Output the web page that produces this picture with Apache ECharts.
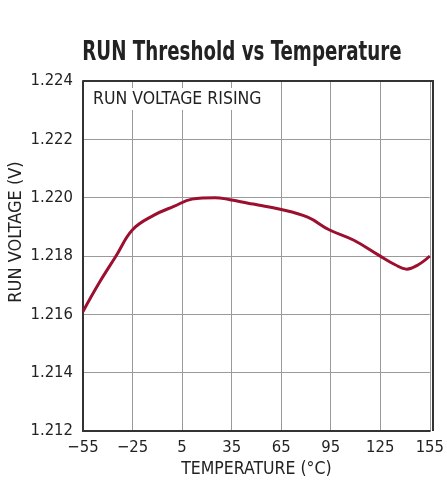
<!DOCTYPE html>
<html>
<head>
<meta charset="utf-8">
<script src="https://cdn.jsdelivr.net/npm/echarts@6/dist/echarts.min.js"></script>
<style>
  html, body { margin: 0; padding: 0; background: #fff; }
  #chart { width: 447px; height: 489px; }
</style>
</head>
<body>
<div id="chart"></div>
<script>
// temperature (°C) and RUN threshold (V)
const temps = [-55, -45, -35, -25, -12, 0, 11, 25, 34, 45, 51, 63, 81, 94, 109, 124, 134, 141, 148, 155];
const volts = [1.2161, 1.2171, 1.2180, 1.2189, 1.2194, 1.2197, 1.21995, 1.2200, 1.21993, 1.21981, 1.21975, 1.21962, 1.21933, 1.2189, 1.21854, 1.21803, 1.2177, 1.21755, 1.2177, 1.2180];
const xTicks = [-55, -25, 5, 35, 65, 95, 125, 155];
const yMin = 1.212, yMax = 1.224, yStep = 0.002;

const font = '"DejaVu Sans Condensed", "Liberation Sans Narrow", sans-serif';
const chart = echarts.init(document.getElementById('chart'));

chart.setOption({
  animation: false,
  grid: { left: 83, right: 13, top: 81, bottom: 58 },
  xAxis: {
    type: 'value', min: -55, max: 155, interval: 30,
    name: 'TEMPERATURE (°C)', nameLocation: 'middle', nameGap: 29,
    nameTextStyle: { fontFamily: font, fontSize: 17.5, color: '#222' },
    axisLine: { show: true, onZero: false, lineStyle: { color: '#333', width: 2 } },
    axisTick: { show: false },
    axisLabel: {
      fontFamily: font, fontSize: 16.5, color: '#222', margin: 8,
      formatter: v => xTicks.includes(v) ? String(v).replace('-', '\u2212') : ''
    },
    splitLine: { show: true, lineStyle: { color: '#9a9a9a', width: 1 } }
  },
  yAxis: {
    type: 'value', min: yMin, max: yMax, interval: yStep,
    axisLine: { show: true, onZero: false, lineStyle: { color: '#333', width: 2 } },
    axisTick: { show: false },
    axisLabel: {
      fontFamily: font, fontSize: 16.5, color: '#222', margin: 10,
      formatter: v => v.toFixed(3)
    },
    splitLine: { show: true, lineStyle: { color: '#9a9a9a', width: 1 } }
  },
  graphic: [
    {
      type: 'text', x: 242, y: 53, scaleX: 0.78, z: 10,
      style: {
        text: 'RUN Threshold vs Temperature', fontFamily: font, fontSize: 26,
        fontWeight: 'bold', fill: '#222', align: 'center', verticalAlign: 'middle'
      }
    },
    {
      type: 'line', shape: { x1: 433, y1: 81, x2: 433, y2: 431 },
      style: { stroke: '#333', lineWidth: 2 }, z: 10
    },
    {
      type: 'line', shape: { x1: 83, y1: 81, x2: 434, y2: 81 },
      style: { stroke: '#333', lineWidth: 2 }, z: 10
    },
    {
      type: 'text', left: 89, top: 88, z: 10,
      style: {
        text: 'RUN VOLTAGE RISING', fontFamily: font, fontSize: 17.5, fill: '#222',
        backgroundColor: '#fff', padding: [2, 4, 2, 4]
      }
    },
    {
      type: 'text', x: 7, y: 232, rotation: Math.PI / 2, z: 10,
      style: {
        text: 'RUN VOLTAGE (V)', fontFamily: font, fontSize: 18, fill: '#222',
        align: 'center', verticalAlign: 'top'
      }
    }
  ],
  series: [{
    type: 'line',
    data: temps.map((t, i) => [t, volts[i]]),
    smooth: 0.4,
    showSymbol: false,
    lineStyle: { color: '#9c0f2f', width: 3 }
  }]
});
</script>
</body>
</html>
